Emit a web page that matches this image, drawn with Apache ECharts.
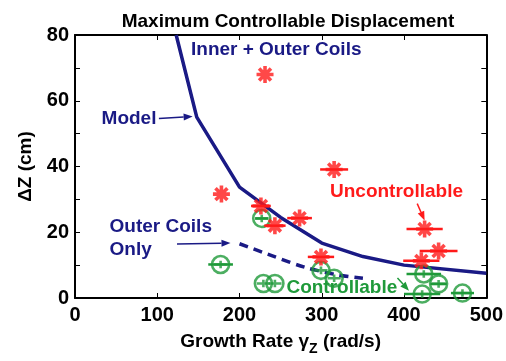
<!DOCTYPE html>
<html><head><meta charset="utf-8">
<script src="https://cdn.jsdelivr.net/npm/echarts@6/dist/echarts.min.js"></script>
<style>html,body{margin:0;padding:0;background:#fff}#c{width:506px;height:361px}</style>
</head><body><div id="c"></div>
<script>
// ---- data ----
const uncX = [231, 178, 226, 243, 273, 315, 299, 425, 442, 421];
const uncY = [68, 31.6, 28, 22, 24.3, 39.1, 12.5, 21, 14.3, 11.3];
const uncErr = [0, 0, 12, 13, 15, 17, 16, 22, 23, 22];

const conX = [177, 227, 229, 243, 299, 315, 424, 442, 422, 471];
const conY = [10.2, 24.2, 4.4, 4.4, 8.4, 6, 7.3, 4.3, 1.2, 1.5];
const conErr = [15, 8, 0, 0, 0, 0, 21, 10, 22, 14];

const modelX = [123, 148, 200, 250, 300, 350, 400, 500];
const modelY = [80, 55, 33.7, 24.5, 16.7, 12.6, 10, 7.5];

const outerX = [200, 240, 280, 320, 350];
const outerY = [16.5, 12.8, 9.3, 7, 6];

const xTicks = [0, 100, 200, 300, 400, 500];
const yTicks = [0, 20, 40, 60, 80];

const NAVY = '#1a1a85', RED = '#ff1a1a', GREEN = '#1f9a3a';
const FONT = 'Liberation Sans, Arial, sans-serif';

const zip = (a, b, c) => a.map((v, i) => c ? [v, b[i], c[i]] : [v, b[i]]);

const starPath = 'path://M10,0 L10,20 M0,10 L20,10 M3,3 L17,17 M3,17 L17,3';
const oplusPath = 'path://M10,1 A9,9 0 1,1 9.99,1 Z M10,6 L10,14 M3,10 L17,10';

function errBar(color) {
  return function (params, api) {
    const x = api.value(0), y = api.value(1), e = api.value(2);
    if (!e) return null;
    const p1 = api.coord([x - e, y]), p2 = api.coord([x + e, y]);
    return { type: 'line', shape: { x1: p1[0], y1: p1[1], x2: p2[0], y2: p2[1] },
      style: { stroke: color, lineWidth: 2.5 } };
  };
}

const chart = echarts.init(document.getElementById('c'));
const axisCommon = {
  axisLine: { show: true, onZero: false, lineStyle: { color: '#000', width: 2 } },
  axisTick: { show: true, inside: true, length: 5, lineStyle: { color: '#000', width: 1 } },
  splitLine: { show: false }
};
chart.setOption({
  animation: false,
  title: { text: 'Maximum Controllable Displacement', left: 283, top: 7, textAlign: 'center',
    textStyle: { fontFamily: FONT, fontWeight: 'bold', fontSize: 19, color: '#000' } },
  grid: { left: 75, right: 16, top: 35, bottom: 58 },
  xAxis: [
    Object.assign({ type: 'value', min: 0, max: 500, interval: 100, position: 'bottom',
      name: 'Growth Rate {g|γ}{s|Z} (rad/s)', nameLocation: 'middle', nameGap: 30,
      nameTextStyle: { fontFamily: FONT, fontWeight: 'bold', fontSize: 19, color: '#000',
        rich: { g: { fontFamily: FONT, fontWeight: 'bold', fontSize: 19 },
                s: { fontFamily: FONT, fontWeight: 'bold', fontSize: 14, padding: [14, 0, 0, 0] } } },
      axisLabel: { fontFamily: FONT, fontWeight: 'bold', fontSize: 20, color: '#000', margin: 7,
        formatter: v => xTicks.includes(v) ? String(v) : '' } }, axisCommon),
    Object.assign({ type: 'value', min: 0, max: 500, interval: 100, position: 'top',
      axisLabel: { show: false } }, axisCommon)
  ],
  yAxis: [
    Object.assign({ type: 'value', min: 0, max: 80, interval: 10, position: 'left',
      name: 'ΔZ (cm)', nameLocation: 'middle', nameGap: 40, nameRotate: 90,
      nameTextStyle: { fontFamily: FONT, fontWeight: 'bold', fontSize: 19, color: '#000' },
      axisLabel: { fontFamily: FONT, fontWeight: 'bold', fontSize: 20, color: '#000', margin: 6,
        formatter: v => yTicks.includes(v) ? String(v) : '' } }, axisCommon),
    Object.assign({ type: 'value', min: 0, max: 80, interval: 10, position: 'right',
      axisLabel: { show: false } }, axisCommon)
  ],
  series: [
    { type: 'line', data: zip(modelX, modelY), showSymbol: false, symbol: 'none',
      lineStyle: { color: NAVY, width: 3.5 }, z: 2 },
    { type: 'line', data: zip(outerX, outerY), showSymbol: false, symbol: 'none', smooth: 0.3,
      lineStyle: { color: NAVY, width: 3.5, type: [9, 6] }, z: 2 },
    { type: 'custom', data: zip(conX, conY, conErr), renderItem: errBar(GREEN), z: 3 },
    { type: 'scatter', data: zip(conX, conY), symbol: oplusPath, symbolSize: 17,
      itemStyle: { color: 'rgba(0,0,0,0)', borderColor: GREEN, borderWidth: 2.6 }, z: 4 },
    { type: 'custom', data: zip(uncX, uncY, uncErr), renderItem: errBar(RED), z: 5 },
    { type: 'scatter', data: zip(uncX, uncY), symbol: starPath, symbolSize: 17,
      itemStyle: { color: 'rgba(0,0,0,0)', borderColor: RED, borderWidth: 3.6 }, z: 6 }
  ]
});

// annotations in data coordinates
const notes = [
  { text: 'Inner + Outer Coils', at: [141, 75.5], color: NAVY, align: 'left' },
  { text: 'Model', at: [99, 54.6], color: NAVY, align: 'right' },
  { text: 'Outer Coils', at: [42, 21.7], color: NAVY, align: 'left' },
  { text: 'Only', at: [42, 14.6], color: NAVY, align: 'left' },
  { text: 'Uncontrollable', at: [310, 32.2], color: RED, align: 'left' },
  { text: 'Controllable', at: [257, 3], color: GREEN, align: 'left' }
];
const arrows = [
  { from: [102, 54.6], to: [143, 55.2], color: NAVY },
  { from: [124, 16.4], to: [189, 16.7], color: NAVY },
  { from: [416, 28.7], to: [425, 23.6], color: RED },
  { from: [392, 6.1], to: [406, 2.2], color: GREEN }
];
const px = p => chart.convertToPixel({ xAxisIndex: 0, yAxisIndex: 0 }, p);
const graphic = [];
notes.forEach(n => {
  const p = px(n.at);
  graphic.push({ type: 'text', x: p[0], y: p[1], z: 10,
    style: { text: n.text, fill: n.color, font: 'bold 19px ' + FONT, textAlign: n.align, textVerticalAlign: 'middle' } });
});
arrows.forEach(a => {
  const p1 = px(a.from), p2 = px(a.to);
  const ang = Math.atan2(p2[1] - p1[1], p2[0] - p1[0]);
  const L = 9, W = 3.5;
  const bx = p2[0] - L * Math.cos(ang), by = p2[1] - L * Math.sin(ang);
  graphic.push({ type: 'line', z: 10, shape: { x1: p1[0], y1: p1[1], x2: bx, y2: by },
    style: { stroke: a.color, lineWidth: 1.5 } });
  graphic.push({ type: 'polygon', z: 10, shape: { points: [p2,
      [bx + W * Math.sin(ang), by - W * Math.cos(ang)],
      [bx - W * Math.sin(ang), by + W * Math.cos(ang)]] },
    style: { fill: a.color } });
});
chart.setOption({ graphic: graphic });
</script>
</body></html>
